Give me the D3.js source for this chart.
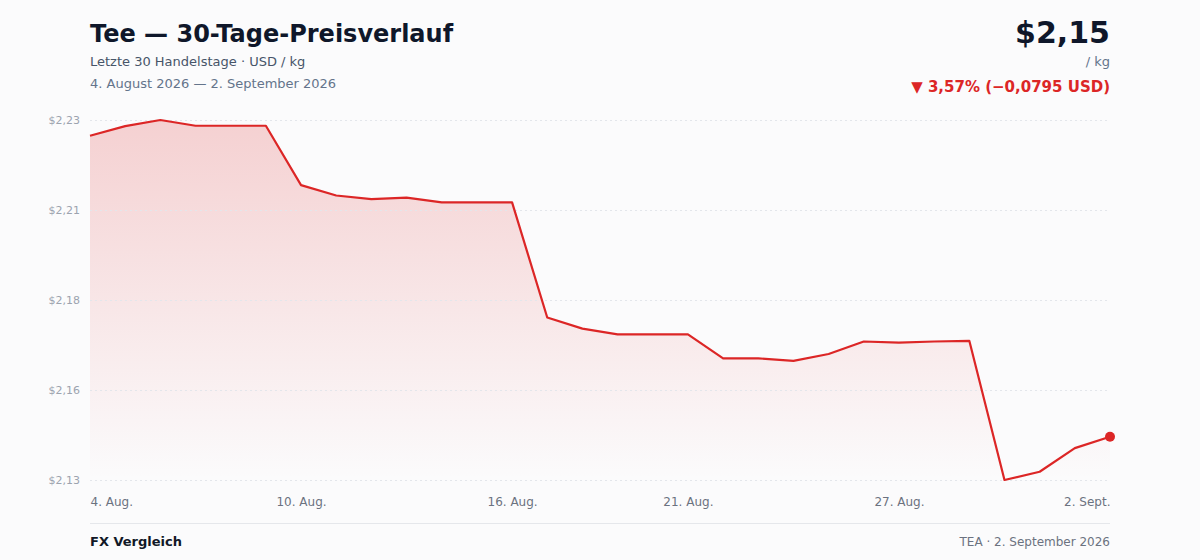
<!DOCTYPE html>
<html>
<head>
<meta charset="utf-8">
<script src="https://cdn.jsdelivr.net/npm/d3@7"></script>
<style>
  body { margin: 0; background: #fbfbfc; font-family: "DejaVu Sans", sans-serif; }
  svg { display: block; }
</style>
</head>
<body>
<svg id="chart" width="1200" height="560"></svg>
<script>
// 30 calendar days, 4 Aug 2026 - 2 Sep 2026
var dayLabels = ['4. Aug.','5. Aug.','6. Aug.','7. Aug.','8. Aug.','9. Aug.','10. Aug.','11. Aug.','12. Aug.','13. Aug.',
    '14. Aug.','15. Aug.','16. Aug.','17. Aug.','18. Aug.','19. Aug.','20. Aug.','21. Aug.','22. Aug.','23. Aug.',
    '24. Aug.','25. Aug.','26. Aug.','27. Aug.','28. Aug.','29. Aug.','30. Aug.','31. Aug.','1. Sept.','2. Sept.'];
// price USD / kg
var prices = [2.2264, 2.2291, 2.2308, 2.2292, 2.2292, 2.2292, 2.2126, 2.2097, 2.2087, 2.2091,
    2.2078, 2.2078, 2.2078, 2.1756, 2.1725, 2.1709, 2.1709, 2.1709, 2.1642, 2.1642,
    2.1635, 2.1654, 2.1689, 2.1686, 2.1689, 2.1691, 2.1302, 2.1325, 2.1391, 2.1423];
// which days get an x label
var xTickIdx = [0, 6, 12, 17, 23, 29];

var data = prices.map(function(p, i){ return {i: i, label: dayLabels[i], price: p}; });

var margin = {t: 120, r: 90, b: 80, l: 90};
var width = 1200 - margin.l - margin.r,
    height = 560 - margin.t - margin.b;

var svg = d3.select('#chart');

var defs = svg.append('defs');
var grad = defs.append('linearGradient').attr('id', 'areaFill')
    .attr('x1', 0).attr('y1', 0).attr('x2', 0).attr('y2', 1);
grad.append('stop').attr('offset', '0%').attr('stop-color', '#dc2626').attr('stop-opacity', 0.2);
grad.append('stop').attr('offset', '100%').attr('stop-color', '#dc2626').attr('stop-opacity', 0.0);

// scales
var x = d3.scaleLinear().domain([0, data.length - 1]).range([0, width]);
var yExt = d3.extent(prices);
var y = d3.scaleLinear().domain(yExt).range([height, 0]);
var yTicks = d3.range(5).map(function(k){ return yExt[0] + k * (yExt[1] - yExt[0]) / 4; });

var fmtPrice = function(v){ return '$' + v.toFixed(2).replace('.', ','); };

var g = svg.append('g').attr('transform', 'translate(' + margin.l + ',' + margin.t + ')');

// area + line
var area = d3.area().x(function(d){ return x(d.i); }).y0(height).y1(function(d){ return y(d.price); });
var line = d3.line().x(function(d){ return x(d.i); }).y(function(d){ return y(d.price); });

g.append('path').datum(data).attr('d', area).attr('fill', 'url(#areaFill)');

// grid
var axisY = d3.axisLeft(y).tickValues(yTicks).tickSize(-width).tickPadding(10).tickFormat(fmtPrice);
var gy = g.append('g').attr('class', 'axis axis-y').call(axisY);
gy.select('.domain').remove();
gy.selectAll('.tick line').attr('stroke', '#e3e6eb').attr('stroke-dasharray', '2,3');
gy.selectAll('.tick text').attr('fill', '#9ca3af').style('font-size', '11px')
    .style('font-family', '"DejaVu Sans", sans-serif');

g.append('path').datum(data).attr('d', line)
    .attr('fill', 'none').attr('stroke', '#dc2626').attr('stroke-width', 2.2)
    .attr('stroke-linejoin', 'round');

var last = data[data.length - 1];
g.append('circle').attr('cx', x(last.i)).attr('cy', y(last.price)).attr('r', 5).attr('fill', '#dc2626');

// x axis labels
var axisX = d3.axisBottom(x).tickValues(xTickIdx).tickSize(0).tickPadding(17)
    .tickFormat(function(i){ return dayLabels[i]; });
var gx = g.append('g').attr('class', 'axis axis-x').attr('transform', 'translate(0,' + height + ')').call(axisX);
gx.select('.domain').remove();
gx.selectAll('.tick text').attr('fill', '#6b7280').style('font-size', '12px')
    .style('font-family', '"DejaVu Sans", sans-serif')
    .attr('text-anchor', function(i){ return i === 0 ? 'start' : (i === data.length - 1 ? 'end' : 'middle'); });

// header
svg.append('text').attr('x', 90).attr('y', 42).text('Tee — 30-Tage-Preisverlauf')
    .attr('fill', '#0f172a').style('font-size', '24px').style('font-weight', 'bold');
svg.append('text').attr('x', 90).attr('y', 66).text('Letzte 30 Handelstage · USD / kg')
    .attr('fill', '#475569').style('font-size', '13px');
svg.append('text').attr('x', 90).attr('y', 88).text('4. August 2026 — 2. September 2026')
    .attr('fill', '#64748b').style('font-size', '13px');

svg.append('text').attr('x', 1110).attr('y', 43).attr('text-anchor', 'end').text('$2,15')
    .attr('fill', '#0f172a').style('font-size', '30px').style('font-weight', 'bold');
svg.append('text').attr('x', 1110).attr('y', 66).attr('text-anchor', 'end').text('/ kg')
    .attr('fill', '#64748b').style('font-size', '13px');
svg.append('text').attr('x', 1110).attr('y', 92).attr('text-anchor', 'end').text('▼ 3,57% (−0,0795 USD)')
    .attr('fill', '#dc2626').style('font-size', '15px').style('font-weight', 'bold');

// footer
svg.append('line').attr('x1', 90).attr('x2', 1110).attr('y1', 523.5).attr('y2', 523.5)
    .attr('stroke', '#e5e7eb').attr('stroke-width', 1);
svg.append('text').attr('x', 90).attr('y', 546).text('FX Vergleich')
    .attr('fill', '#111827').style('font-size', '13px').style('font-weight', 'bold');
svg.append('text').attr('x', 1110).attr('y', 546).attr('text-anchor', 'end').text('TEA · 2. September 2026')
    .attr('fill', '#6b7280').style('font-size', '12px');
</script>
</body>
</html>
